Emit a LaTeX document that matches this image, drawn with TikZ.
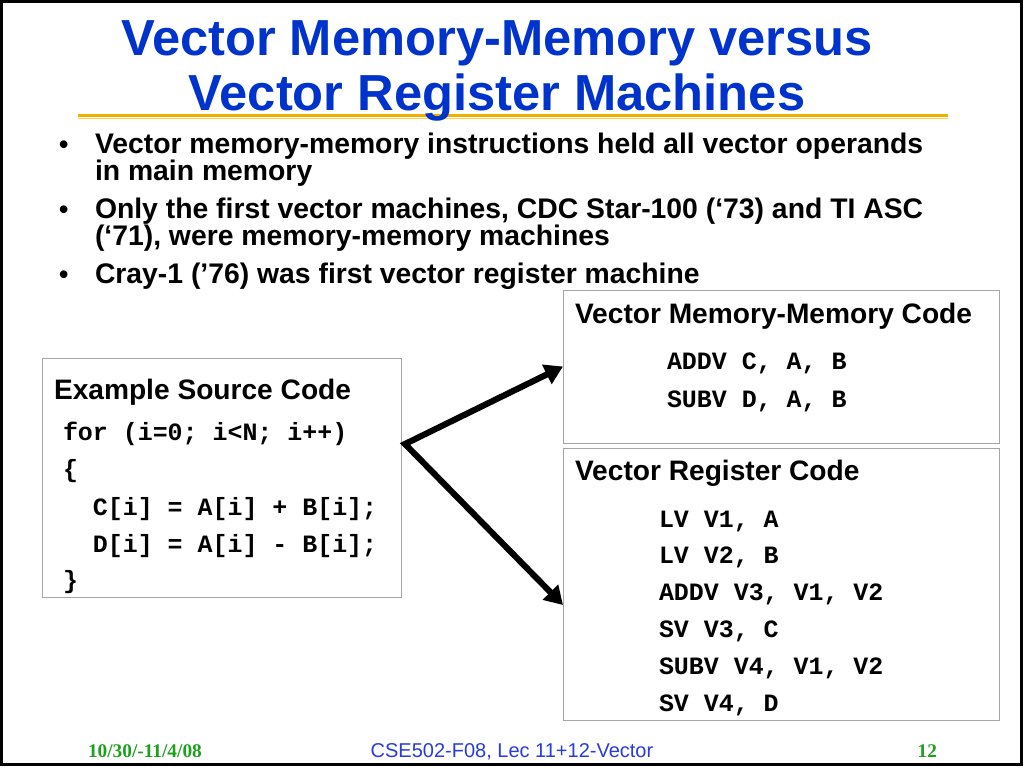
\documentclass[tikz,border=0pt]{standalone}
\usepackage{fontspec}
\setmainfont{Liberation Sans}
\setmonofont{Liberation Mono}
\newfontfamily\serifft{Liberation Serif}
\usetikzlibrary{arrows.meta,calc}
\definecolor{titleblue}{RGB}{0,51,204}
\definecolor{gold}{RGB}{240,176,0}
\definecolor{goldlight}{RGB}{252,214,80}
\definecolor{boxgray}{RGB}{165,165,165}
\definecolor{footgreen}{RGB}{30,160,30}
\definecolor{footblue}{RGB}{40,60,220}
\begin{document}
\begin{tikzpicture}[x=0.75pt,y=-0.75pt,
  every node/.style={inner sep=0pt,outer sep=0pt},
  titletext/.style={font=\bfseries\fontsize{38}{40}\selectfont,text=titleblue,anchor=base},
  bultext/.style={font=\bfseries\fontsize{21.25}{24}\selectfont,anchor=base west},
  bulmark/.style={font=\bfseries\fontsize{20}{22}\selectfont,anchor=base west},
  headtext/.style={font=\bfseries\fontsize{21.1}{24}\selectfont,anchor=base west},
  codetext/.style={font=\ttfamily\bfseries\fontsize{18.7}{20}\selectfont,anchor=base west},
  codebox/.style={draw=boxgray,line width=0.75pt,fill=white,rectangle},
  fork/.style={line width=4.6pt,line join=miter,
    {Triangle[length=13.5pt,width=15.5pt]}-{Triangle[length=13.5pt,width=15.5pt]}},
  footserif/.style={font=\serifft\bfseries\fontsize{14.5}{16}\selectfont,text=footgreen},
  footsans/.style={font=\fontsize{15}{17}\selectfont,text=footblue,anchor=base}
]
\fill[white] (0,0) rectangle (1024,768);
\useasboundingbox (0,0) rectangle (1024,768);
\draw[line width=2.25pt] (1.5,1.5) rectangle (1021,764.5);

% title rule and title
\draw[gold,line width=2.2pt] (78,115.5) -- (948,115.5);
\draw[goldlight,line width=1.2pt] (78,118.5) -- (948,118.5);
\node[titletext] (title1) at (497,55) {Vector Memory-Memory versus};
\node[titletext] (title2) at (497,110) {Vector Register Machines};

% bullets
\node[bulmark] (m1) at (59,153) {•};
\node[bultext] (b1a) at (95,153) {Vector memory-memory instructions held all vector operands};
\node[bultext] (b1b) at (95,180) {in main memory};
\node[bulmark] (m2) at (59,218) {•};
\node[bultext] (b2a) at (95,218) {Only the first vector machines, CDC Star-100 (‘73) and TI ASC};
\node[bultext] (b2b) at (95,245) {(‘71), were memory-memory machines};
\node[bulmark] (m3) at (59,283) {•};
\node[bultext] (b3a) at (95,283) {Cray-1 (’76) was first vector register machine};

% boxes
\node[codebox,minimum width=269.25pt,minimum height=179.25pt] (src) at (221.5,477.5) {};
\node[codebox,minimum width=327pt,minimum height=114.75pt] (mm) at (781,366.5) {};
\node[codebox,minimum width=327pt,minimum height=204pt] (reg) at (781,584) {};

% source code
\node[headtext] (srch) at (54,399) {Example Source Code};
\node[codetext] (s1) at (63,440) {for (i=0; i<N; i++)};
\node[codetext] (s2) at (63,477) {\{};
\node[codetext] (s3) at (63,515) {\ \ C[i] = A[i] + B[i];};
\node[codetext] (s4) at (63,552) {\ \ D[i] = A[i] - B[i];};
\node[codetext] (s5) at (63,588) {\}};

% memory-memory code
\node[headtext] (mmh) at (575,323) {Vector Memory-Memory Code};
\node[codetext] (mm1) at (667,369) {ADDV C, A, B};
\node[codetext] (mm2) at (667,407) {SUBV D, A, B};

% register code
\node[headtext] (regh) at (575,480) {Vector Register Code};
\node[codetext] (r1) at (659,527) {LV V1, A};
\node[codetext] (r2) at (659,563) {LV V2, B};
\node[codetext] (r3) at (659,600) {ADDV V3, V1, V2};
\node[codetext] (r4) at (659,637) {SV V3, C};
\node[codetext] (r5) at (659,674) {SUBV V4, V1, V2};
\node[codetext] (r6) at (659,711) {SV V4, D};

% arrows
\coordinate (forkpt) at ($(src.north east)+(4,86)$);
\coordinate (regin) at ($(reg.west)+(0,21)$);
\draw[fork] (mm.west) -- (forkpt) -- (regin);

% footer
\node[footserif,anchor=base west] (date) at (88,757) {10/30/-11/4/08};
\node[footsans] (course) at (512,757) {CSE502-F08, Lec 11+12-Vector};
\node[footserif,anchor=base east] (page) at (937,757) {12};
\end{tikzpicture}
\end{document}
